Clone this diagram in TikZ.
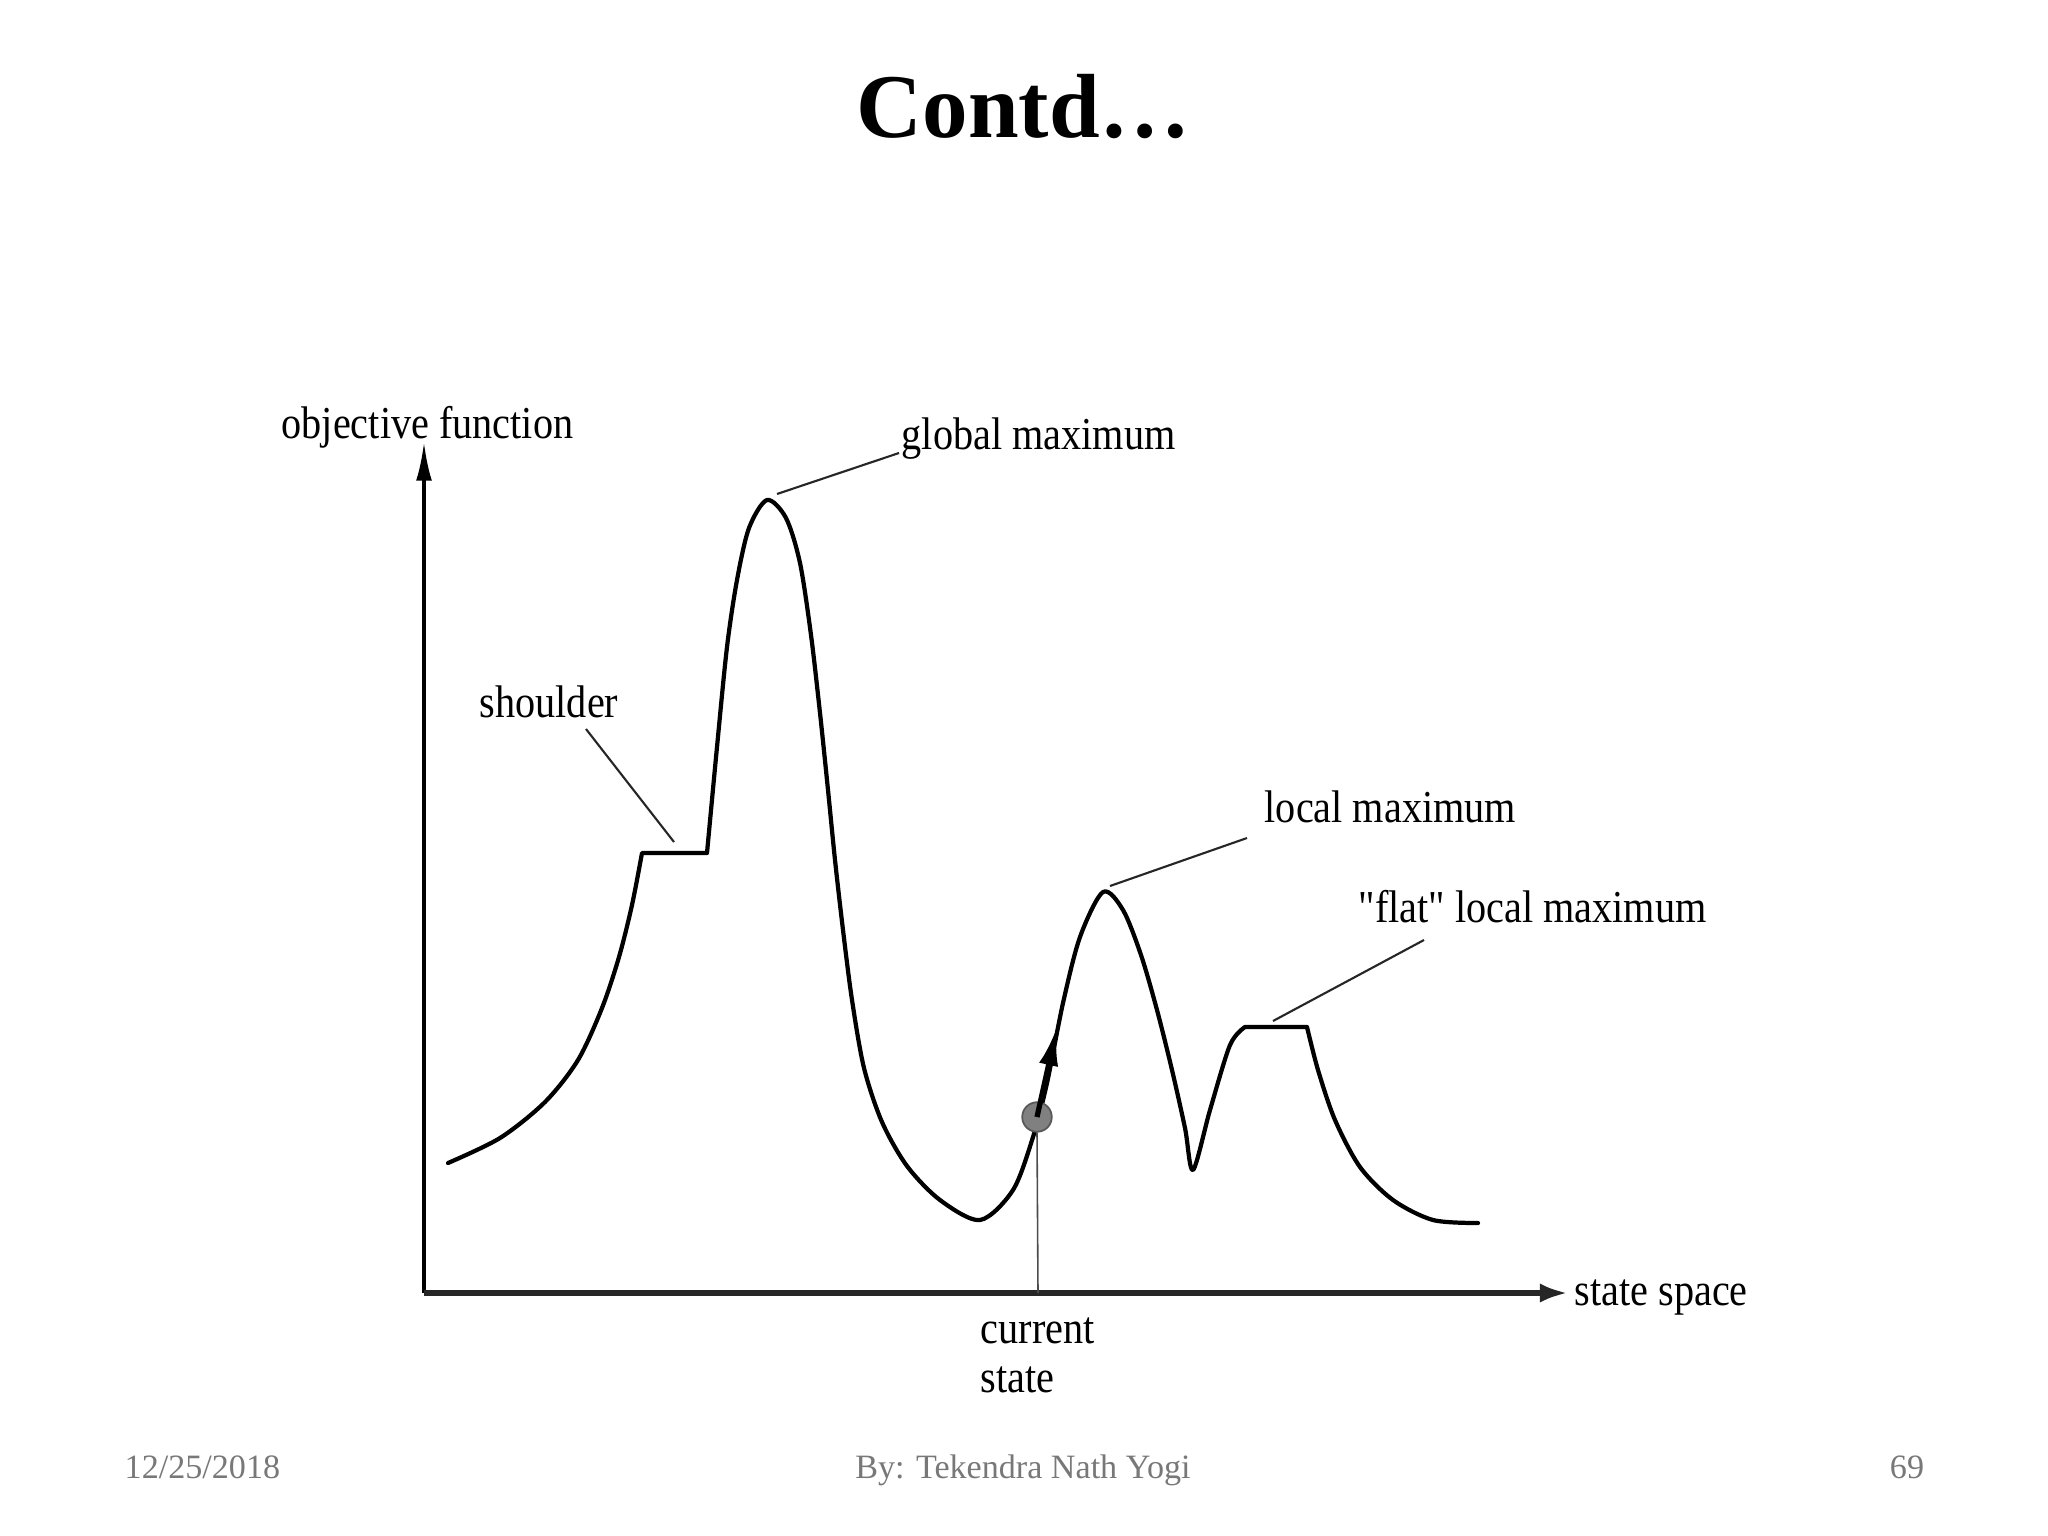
\documentclass[tikz,border=0pt]{standalone}
\usepackage{fontspec}
\setmainfont{Liberation Serif}
\newfontfamily\lblfont[FakeStretch=0.88]{Liberation Serif}
\usetikzlibrary{arrows.meta}
\definecolor{footgray}{RGB}{120,120,120}
\tikzset{
  titletext/.style={font=\fontsize{25.9}{31}\selectfont\bfseries, inner sep=0pt, anchor=base},
  foottext/.style={font=\fontsize{9.7}{12}\selectfont, text=footgray, inner sep=0pt, anchor=base},
  lbl/.style={font=\lblfont\fontsize{13}{15}\selectfont, inner sep=0pt, anchor=west},
  curveline/.style={line width=1.2pt, line join=round, line cap=round},
  leader/.style={line width=0.6pt, black!85},
  yaxis/.style={line width=1pt, -{Latex[length=11pt,width=4.5pt]}},
  xaxis/.style={line width=1.7pt, black!85, -{Latex[length=8pt,width=5.5pt]}},
  stateline/.style={line width=0.45pt, black!70},
  statedot/.style={circle, minimum size=8.4pt, inner sep=0pt, fill=black!50, draw=black!65, line width=0.5pt},
  movearrow/.style={line width=1.5pt, -{Latex[length=11pt,width=5.5pt]}}
}
\begin{document}
\begin{tikzpicture}[x=0.01cm,y=-0.01cm]
\useasboundingbox[fill=white] (0,0) rectangle (2048,1536);

% title and footer
\node[titletext] (title) at (1024,137) {Contd\ldots};
\node[foottext, anchor=base west] (date) at (124,1478) {12/25/2018};
\node[foottext] (author) at (1023,1478) {By: Tekendra Nath Yogi};
\node[foottext] (page) at (1907,1478) {69};

% axes
\coordinate (O) at (424,1293);
\coordinate (ytop) at (424,442);
\coordinate (xend) at (1568,1293);
\draw[yaxis] (O) -- (ytop);
\draw[xaxis] (O) -- (xend);

% curve
\draw[curveline]
  plot[smooth] coordinates {(448,1163) (500,1138) (545,1102) (578,1060) (602,1008) (619,957) (632,905) (642,853)}
  -- (707,853)
  plot[smooth] coordinates {(707,853) (717,747) (727,647) (737,580) (749,528) (767,500) (786,518) (800,563) (811,635) (820,713) (828,790) (835,860) (843,930) (852,1000) (864,1068) (882,1122) (907,1166) (940,1200) (980,1220) (1013,1190) (1033,1137) (1047,1083) (1063,1003) (1080,937) (1103,892) (1123,910) (1141,955) (1157,1010) (1172,1070) (1185,1128) (1193,1170) (1210,1110) (1230,1045) (1245,1027)}
  -- (1307,1027)
  plot[smooth] coordinates {(1307,1027) (1318,1070) (1335,1120) (1360,1167) (1393,1200) (1433,1220) (1478,1223)};

% labels
\node[lbl] (objf) at (281,427) {objective function};
\node[lbl] (gmax) at (901,439) {global maximum};
\node[lbl] (shld) at (479,702) {shoulder};
\node[lbl] (lmax) at (1264,807) {local maximum};
\node[lbl] (fmax) at (1358,907) {"flat" local maximum};
\node[lbl] (sspace) at (1574,1297) {state space};
\node[lbl] (cur) at (980,1331) {current};
\node[lbl] (st) at (980,1380) {state};

% leader lines
\coordinate (gl1) at (899,453);
\coordinate (gl2) at (777,494);
\coordinate (sl1) at (586,729);
\coordinate (sl2) at (674,842);
\coordinate (ll1) at (1247,838);
\coordinate (ll2) at (1110,886);
\coordinate (fl1) at (1424,940);
\coordinate (fl2) at (1273,1021);
\draw[leader] (gl1) -- (gl2);
\draw[leader] (sl1) -- (sl2);
\draw[leader] (ll1) -- (ll2);
\draw[leader] (fl1) -- (fl2);

% current state
\coordinate (sbase) at (1038,1293);
\node[statedot] (dot) at (1037,1117) {};
\coordinate (mtip) at (1057,1027);
\draw[stateline] (sbase) -- (dot.south);
\draw[movearrow] (dot.center) -- (mtip);
\end{tikzpicture}
\end{document}
